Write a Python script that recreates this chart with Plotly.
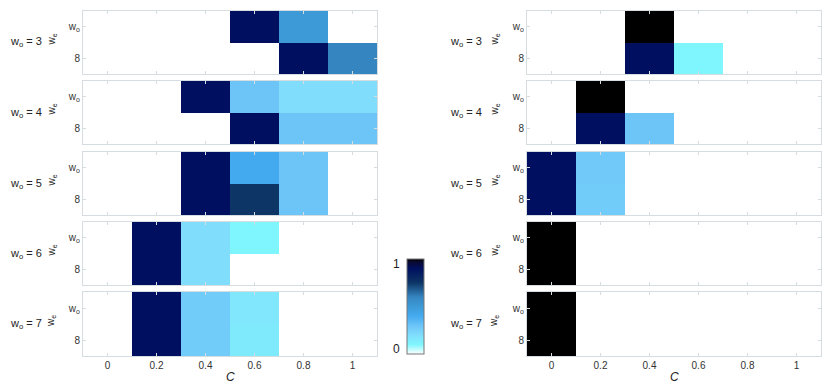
import plotly.graph_objects as go

# %% DATA
c_vals = [0, 0.2, 0.4, 0.6, 0.8, 1.0]
w_o_list = [3, 4, 5, 6, 7]
row_labels = ['w<sub>o</sub>', '8']
tick_labels = ['0', '0.2', '0.4', '0.6', '0.8', '1']

# each entry: [row w_o, row 8]
left_z = {
    3: [[0, 0, 0, 0.9, 0.5, 0], [0, 0, 0, 0, 0.9, 0.6]],
    4: [[0, 0, 0.9, 0.3, 0.2, 0.2], [0, 0, 0, 0.9, 0.3, 0.3]],
    5: [[0, 0, 0.9, 0.4, 0.3, 0], [0, 0, 0.9, 0.75, 0.3, 0]],
    6: [[0, 0.9, 0.2, 0.1, 0, 0], [0, 0.9, 0.2, 0, 0, 0]],
    7: [[0, 0.9, 0.27, 0.16, 0, 0], [0, 0.9, 0.27, 0.15, 0, 0]],
}
right_z = {
    3: [[0, 0, 1, 0, 0, 0], [0, 0, 0.9, 0.1, 0, 0]],
    4: [[0, 1, 0, 0, 0, 0], [0, 0.9, 0.3, 0, 0, 0]],
    5: [[0.9, 0.28, 0, 0, 0, 0], [0.9, 0.27, 0, 0, 0, 0]],
    6: [[1, 0, 0, 0, 0, 0], [1, 0, 0, 0, 0, 0]],
    7: [[1, 0, 0, 0, 0, 0], [1, 0, 0, 0, 0, 0]],
}

colorscale = [
    [0.0, '#ffffff'],
    [0.1, '#7ff6fd'],
    [0.2, '#80ddfc'],
    [0.3, '#6cc4f7'],
    [0.4, '#44aaf0'],
    [0.5, '#3d9ad6'],
    [0.6, '#3585c0'],
    [0.75, '#0d3565'],
    [0.9, '#000f5f'],
    [0.97, '#0a0a30'],
    [1.0, '#000000'],
]

# %% LAYOUT HELPERS
# page body has an 8px margin, so work in window pixels and shift
OFF = 8
W, H = 822, 382


def px_x(p):
    return (p - OFF) / W


def px_y(p):
    return 1 - (p - OFF) / H


row_px = [(11, 74), (81, 144), (152, 215), (222, 285), (292, 356)]
col_px = [(83, 377), (527, 821)]
label_x = [(26, 51), (466, 494)]
font = 'Liberation Sans, Arial, sans-serif'
frame = '#d6dde0'


def note(text, x, y, size=11, **kw):
    return dict(text=text, x=px_x(x), y=px_y(y), xref='paper', yref='paper',
                xanchor='center', yanchor='middle', showarrow=False,
                font=dict(size=size, color='#222', family=font), **kw)


fig = go.Figure()
layout = {}
annotations = []

n = 0
for ci, zmap in enumerate([left_z, right_z]):
    for ri, wo in enumerate(w_o_list):
        n += 1
        xa = 'x' if n == 1 else f'x{n}'
        ya = 'y' if n == 1 else f'y{n}'
        fig.add_trace(go.Heatmap(
            z=zmap[wo], x=c_vals, y=[1, 0],
            coloraxis='coloraxis', xaxis=xa, yaxis=ya,
        ))
        top, bot = row_px[ri]
        x0, x1 = col_px[ci]
        last = ri == len(w_o_list) - 1
        layout[xa.replace('x', 'xaxis')] = dict(
            domain=[px_x(x0), px_x(x1)], anchor=ya, range=[-0.1, 1.1],
            tickvals=c_vals, ticktext=tick_labels, showticklabels=last,
            ticks='inside', ticklen=3, tickcolor=frame,
            showline=True, mirror='ticks', linecolor=frame, linewidth=1,
            showgrid=False, zeroline=False,
            tickfont=dict(size=10, color='#333'),
        )
        layout[ya.replace('y', 'yaxis')] = dict(
            domain=[px_y(bot), px_y(top)], anchor=xa, range=[-0.5, 1.5],
            tickvals=[1, 0], ticktext=row_labels,
            ticks='inside', ticklen=3, tickcolor=frame,
            showline=True, mirror='ticks', linecolor=frame, linewidth=1,
            showgrid=False, zeroline=False,
            tickfont=dict(size=10, color='#333'),
        )
        yc = (top + bot) / 2
        annotations.append(note(f'w<sub>o</sub> = {wo}', label_x[ci][0], yc, size=11))
        annotations.append(note('w<sub>e</sub>', label_x[ci][1], yc - 3, size=10, textangle=-90))
    # C label
    annotations.append(note('<i>C</i>', (col_px[ci][0] + col_px[ci][1]) / 2, 377, size=12))

# colorbar tick labels on the left side
annotations.append(note('1', 396, 264, size=12))
annotations.append(note('0', 396, 349, size=12))

fig.update_layout(
    **layout,
    width=W, height=H,
    margin=dict(l=0, r=0, t=0, b=0),
    plot_bgcolor='white', paper_bgcolor='white',
    font=dict(family=font),
    coloraxis=dict(
        colorscale=colorscale, cmin=0, cmax=1,
        colorbar=dict(
            x=px_x(407 - 10), xanchor='left', xpad=10,
            y=px_y(306.5), yanchor='middle', ypad=10,
            len=95 + 20, lenmode='pixels', thickness=17,
            outlinewidth=1, outlinecolor='#777',
            showticklabels=False, ticks='',
        ),
    ),
    annotations=annotations,
)

fig.write_html('out.html')
